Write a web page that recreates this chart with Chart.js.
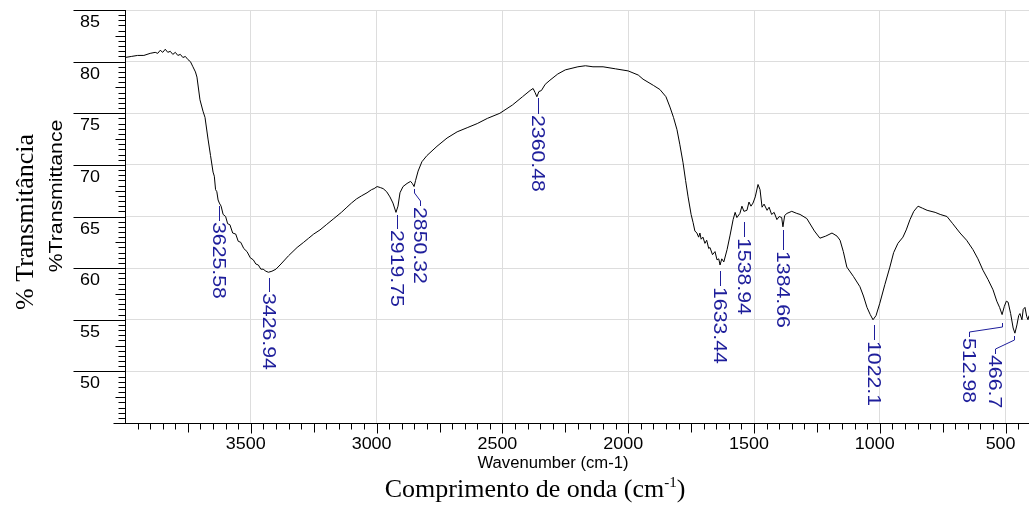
<!DOCTYPE html>
<html><head><meta charset="utf-8">
<script src="https://cdn.jsdelivr.net/npm/chart.js@4.4.1/dist/chart.umd.min.js"></script>
<style>html,body{margin:0;padding:0;background:#fff;overflow:hidden}canvas{display:block}</style>
</head><body>
<canvas id="c" width="1029" height="508"></canvas>
<script>
// ---- data ----
const wavenumber = [
 4000,3975,3950,3925,3900,3880,3870,3860,3850,3840,
 3830,3820,3810,3800,3790,3780,3770,3760,3750,3740,
 3730,3720,3714,3702,3690,3682,3670,3660,3650,3645,
 3640,3635,3630,3625,3618,3610,3600,3592,3583,3572,
 3560,3550,3540,3528,3515,3502,3490,3480,3470,3460,
 3451,3440,3430,3416,3400,3380,3350,3316,3290,3270,
 3250,3225,3200,3170,3140,3118,3100,3080,3060,3038,
 3020,3010,2998,2985,2974,2960,2947,2935,2923,2915,
 2907,2895,2879,2865,2858,2851,2845,2835,2820,2800,
 2760,2720,2680,2640,2600,2560,2510,2460,2420,2390,
 2378,2370,2363,2355,2345,2330,2311,2280,2250,2200,
 2170,2140,2100,2050,2000,1960,1941,1900,1874,1850,
 1834,1820,1806,1795,1782,1772,1762,1750,1742,1735,
 1727,1720,1715,1710,1703,1695,1688,1680,1675,1665,
 1655,1647,1640,1635,1628,1620,1607,1595,1583,1575,
 1568,1556,1548,1540,1528,1520,1512,1504,1495,1484,
 1476,1468,1460,1448,1440,1430,1420,1409,1400,1390,
 1385,1378,1369,1350,1330,1317,1290,1260,1238,1215,
 1190,1170,1158,1145,1131,1105,1079,1065,1051,1038,
 1027,1015,1000,980,960,945,928,908,895,880,
 865,848,830,812,780,760,733,710,681,655,
 630,610,590,570,550,535,524,514,505,497,
 490,480,470,463,455,448,443,435,430,423,
 416,411,407
];
const transmittance = [
 80.4,80.5,80.6,80.6,80.8,80.9,80.8,81.1,80.9,81.2,
 80.9,81.0,80.7,80.9,80.6,80.7,80.4,80.5,80.2,80.0,
 79.5,79.0,78.5,76.3,75.2,74.6,72.5,70.9,69.3,68.9,
 67.6,67.4,66.6,66.3,66.0,65.2,65.0,64.3,64.2,63.4,
 63.3,62.6,62.5,61.9,61.6,61.0,60.8,60.4,60.3,59.9,
 59.9,59.7,59.6,59.7,59.9,60.4,61.2,62.0,62.5,62.9,
 63.3,63.7,64.2,64.8,65.4,65.9,66.3,66.7,67.0,67.3,
 67.6,67.7,67.9,67.8,67.7,67.4,66.9,66.3,65.4,66.0,
 67.3,67.9,68.2,68.4,68.2,67.9,68.5,69.4,70.3,70.9,
 71.8,72.6,73.2,73.6,74.0,74.5,75.0,75.8,76.6,77.2,
 77.4,77.0,76.6,77.1,77.2,77.8,78.2,78.8,79.2,79.5,
 79.6,79.5,79.5,79.3,79.1,78.7,78.3,77.7,77.3,76.6,
 75.6,74.6,73.4,72.0,70.2,68.5,66.9,65.2,64.4,63.6,
 63.4,63.0,63.4,62.8,63.0,62.4,62.7,61.9,62.0,61.3,
 61.6,60.8,60.9,60.3,60.9,60.6,61.8,63.2,64.7,65.4,
 64.9,65.3,66.0,65.5,65.6,66.4,66.0,66.3,66.9,68.1,
 67.6,65.9,66.2,65.6,65.9,65.2,65.4,64.7,65.0,64.9,
 64.0,65.1,65.3,65.5,65.3,65.2,64.8,63.6,62.9,63.1,
 63.4,63.1,62.7,61.6,60.1,59.2,58.2,57.3,56.2,55.5,
 55.0,55.4,56.6,58.4,60.1,61.5,62.4,63.0,63.7,64.7,
 65.5,66.0,65.8,65.6,65.4,65.2,65.0,64.3,63.4,62.7,
 61.8,60.9,59.8,58.9,57.9,56.8,56.2,55.5,56.3,56.8,
 56.7,55.6,54.2,53.7,54.5,55.4,55.6,55.0,56.0,56.2,
 55.3,55.0,55.4
];
const xTickValues = [3500,3000,2500,2000,1500,1000,500];
const xTickLabels = ['3500','3000','2500','2000','1500','1000','500'];
const yTickValues = [50,55,60,65,70,75,80,85];
const yTickLabels = ['50','55','60','65','70','75','80','85'];
const peakWavenumbers = [3625.58,3426.94,2919.75,2850.32,2360.48,1633.44,1538.94,1384.66,1022.1,512.98,466.7];
const peakLabels = ['3625.58','3426.94','2919.75','2850.32','2360.48','1633.44','1538.94','1384.66','1022.1','512.98','466.7'];

// ---- label layout (styling, px) ----
const peakLayout = [
 {gap:3,len:15,dx:0},{gap:6,len:14,dx:0},{gap:5,len:14,dx:0},{gap:3,len:17,dx:6},
 {gap:3,len:16,dx:0},{gap:7,len:15,dx:0},{gap:11,len:15,dx:0},{gap:4,len:20,dx:0},
 {gap:7,len:15,dx:0},{gap:9,len:14,dx:-33},{gap:6,len:18,dx:-19}
];
const BLUE = '#1e1e9b';

function curveAt(w){
  for(let i=0;i<wavenumber.length-1;i++){
    const a=wavenumber[i], b=wavenumber[i+1];
    if(w<=a && w>=b){ const t=(a-w)/(a-b); return transmittance[i]+t*(transmittance[i+1]-transmittance[i]); }
  }
  return transmittance[transmittance.length-1];
}

function stext(ctx, s, x, y, font, sx, align, rot, color){
  ctx.save();
  ctx.translate(x,y);
  if(rot) ctx.rotate(rot);
  ctx.scale(sx,1);
  ctx.font=font; ctx.fillStyle=color||'#000'; ctx.textAlign=align; ctx.textBaseline='alphabetic';
  ctx.fillText(s,0,0);
  ctx.restore();
}

const decor = {
  id:'decor',
  afterDraw(chart){
    const ctx=chart.ctx, xs=chart.scales.x, ys=chart.scales.y, ca=chart.chartArea;
    ctx.save();
    ctx.strokeStyle='#000'; ctx.lineWidth=1;
    const L=Math.round(ca.left)+0.5, B=Math.round(ca.bottom)+0.5;
    ctx.beginPath();
    ctx.moveTo(L, Math.round(ca.top)); ctx.lineTo(L, B);
    ctx.moveTo(L-0.5, B); ctx.lineTo(ca.right, B);
    // y ticks
    for(let k=0;k<=80;k++){
      const v=45+k*0.5; const y=Math.round(ys.getPixelForValue(v))+0.5;
      let x0;
      if(k%10===0) x0 = (k===0)? L-12 : L-52;
      else if(k%5===0) x0 = L-10; else x0 = L-7;
      ctx.moveTo(x0,y); ctx.lineTo(L,y);
    }
    // x ticks
    for(let v=3950; v>=410; v-=50){
      const x=Math.round(xs.getPixelForValue(v))+0.5;
      let len = (v%500===0)?10:((v%250===0)?9:6);
      ctx.moveTo(x,B); ctx.lineTo(x,B+len);
    }
    ctx.stroke();

    // tick labels
    const tf='16px Arial, "Liberation Sans", sans-serif';
    xTickValues.forEach((v,i)=>{
      const x=xs.getPixelForValue(v);
      stext(ctx,xTickLabels[i],x-5,ca.bottom+26,tf,1.12,'center',0);
    });
    yTickValues.forEach((v,i)=>{
      const y=ys.getPixelForValue(v);
      stext(ctx,yTickLabels[i],100,y+17,tf,1.12,'right',0);
    });

    // axis titles
    stext(ctx,'%Transmittance',62,196,'18px Arial, "Liberation Sans", sans-serif',1.18,'center',-Math.PI/2);
    stext(ctx,'% Transmitância',33,222,'26px "Times New Roman", "Liberation Serif", serif',1,'center',-Math.PI/2);
    stext(ctx,'Wavenumber (cm-1)',553,468,'16px Arial, "Liberation Sans", sans-serif',1.04,'center',0);

    // Comprimento de onda (cm^-1)
    const mf='26px "Times New Roman", "Liberation Serif", serif', sf='15px "Times New Roman", "Liberation Serif", serif';
    ctx.font=mf; const a='Comprimento de onda (cm', c=')';
    const wa=ctx.measureText(a).width, wc=ctx.measureText(c).width;
    ctx.font=sf; const wb=ctx.measureText('-1').width;
    const tot=wa+wb+wc; let sx0=535-tot/2;
    ctx.fillStyle='#000'; ctx.textAlign='left'; ctx.textBaseline='alphabetic';
    ctx.font=mf; ctx.fillText(a,sx0,497);
    ctx.font=sf; ctx.fillText('-1',sx0+wa,487);
    ctx.font=mf; ctx.fillText(c,sx0+wa+wb,497);

    // peak labels
    ctx.strokeStyle=BLUE; ctx.lineWidth=1;
    peakWavenumbers.forEach((w,i)=>{
      const st=peakLayout[i];
      const px=Math.round(xs.getPixelForValue(w))+0.5;
      const py=ys.getPixelForValue(curveAt(w));
      const y0=Math.round(py+st.gap), y1=y0+st.len;
      ctx.beginPath();
      if(st.dx===0){ ctx.moveTo(px,y0); ctx.lineTo(px,y1); }
      else { ctx.moveTo(px,y0); ctx.lineTo(px,y0+4); ctx.lineTo(px+st.dx,y1-5); ctx.lineTo(px+st.dx,y1); }
      ctx.stroke();
      stext(ctx,peakLabels[i],px+st.dx-7,y1+1,'19px Arial, "Liberation Sans", sans-serif',1.12,'left',Math.PI/2,BLUE);
    });
    ctx.restore();
  }
};

const points = wavenumber.map((w,i)=>({x:w,y:transmittance[i]}));

new Chart(document.getElementById('c'),{
  type:'line',
  data:{datasets:[{data:points,borderColor:'#000',borderWidth:1,pointRadius:0,tension:0,fill:false}]},
  options:{
    responsive:false, animation:false, devicePixelRatio:1,
    layout:{padding:{top:10,right:0,left:0,bottom:0}},
    plugins:{legend:{display:false},tooltip:{enabled:false}},
    scales:{
      x:{type:'linear',reverse:true,min:407,max:4000,
         afterBuildTicks:s=>{s.ticks=xTickValues.map(v=>({value:v}));},
         afterFit:s=>{s.height=85;},
         ticks:{display:false},
         grid:{color:'#dddddd',drawTicks:false,lineWidth:1},
         border:{display:false}},
      y:{type:'linear',min:45,max:85,
         afterBuildTicks:s=>{s.ticks=yTickValues.map(v=>({value:v}));},
         afterFit:s=>{s.width=125;},
         ticks:{display:false},
         grid:{color:'#dddddd',drawTicks:false,lineWidth:1},
         border:{display:false}}
    }
  },
  plugins:[decor]
});
</script>
</body></html>
